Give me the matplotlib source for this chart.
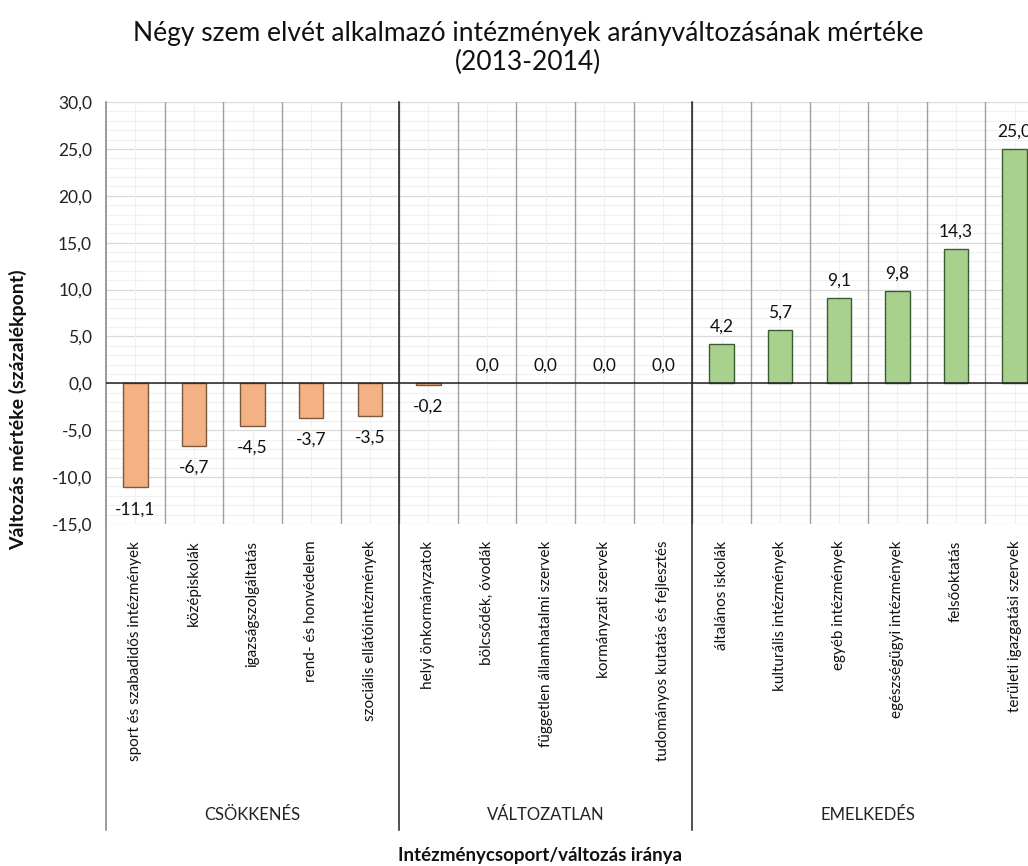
import numpy as np
import matplotlib
matplotlib.use("Agg")
import matplotlib.pyplot as plt
from matplotlib.ticker import MultipleLocator

plt.rcParams['font.family'] = ['Lato', 'DejaVu Sans']

# data
categories = [
    "sport és szabadidős intézmények",
    "középiskolák",
    "igazságszolgáltatás",
    "rend- és honvédelem",
    "szociális ellátóintézmények",
    "helyi önkormányzatok",
    "bölcsődék, óvodák",
    "független államhatalmi szervek",
    "kormányzati szervek",
    "tudományos kutatás és fejlesztés",
    "általános iskolák",
    "kulturális intézmények",
    "egyéb intézmények",
    "egészségügyi intézmények",
    "felsőoktatás",
    "területi igazgatási szervek",
]
values = [-11.1, -6.7, -4.5, -3.7, -3.5, -0.2, 0.0, 0.0, 0.0, 0.0,
          4.2, 5.7, 9.1, 9.8, 14.3, 25.0]
groups = ["CSÖKKENÉS", "VÁLTOZATLAN", "EMELKEDÉS"]
group_sizes = [5, 5, 6]

title = "Négy szem elvét alkalmazó intézmények arányváltozásának mértéke\n(2013-2014)"
ylabel = "Változás mértéke (százalékpont)"
xlabel = "Intézménycsoport/változás iránya"


def fmt(v):
    return f"{v:.1f}".replace(".", ",")


W, H = 1028, 866
fig = plt.figure(figsize=(W / 100, H / 100), dpi=100)

# plot area: x 106..1044 px (runs off the right edge), y 102..524 px
left, right, top, bottom = 106, 1044, 102, 524
ax = fig.add_axes([left / W, 1 - bottom / H, (right - left) / W, (bottom - top) / H])

x = np.arange(len(categories))
colors = ["#F4B183" if v < 0 else "#A9D18E" for v in values]
edges = ["#7a5a3f" if v < 0 else "#3f5a30" for v in values]
lws = [0 if v == 0 else 1.0 for v in values]
ax.bar(x, values, width=0.42, color=colors, edgecolor=edges, linewidth=lws, zorder=3)

ax.set_xlim(-0.5, len(categories) - 0.5)
ax.set_ylim(-15, 30)

# grid: light minor lines every 1, stronger every 5
ax.yaxis.set_major_locator(MultipleLocator(5))
ax.yaxis.set_minor_locator(MultipleLocator(1))
ax.grid(axis="y", which="minor", color="#f0f0f0", linewidth=0.8)
ax.grid(axis="y", which="major", color="#d9d9d9", linewidth=0.9)
ax.set_axisbelow(True)
ax.set_yticks(np.arange(-15, 31, 5))
ax.set_yticklabels([fmt(v) for v in np.arange(-15, 31, 5)], fontsize=12.5, color="#222222")
ax.tick_params(axis="y", which="both", length=0, pad=10)

# vertical lines: minor at centres, gray at category borders, black at group borders
for xi in x:
    ax.axvline(xi, color="#f0f0f0", linewidth=0.8, zorder=0.6)
for b in x[1:]:
    ax.axvline(b - 0.5, color="#a0a0a0", linewidth=1.0, zorder=2)

ext = -(830 - bottom) / (bottom - top)
bounds = np.cumsum([0] + group_sizes) - 0.5
for b in bounds[:-1]:
    col = "#808080" if b < 0 else "#222222"
    ax.axvline(b, ymin=ext, ymax=1, color=col, linewidth=1.1, clip_on=False, zorder=2.5)

ax.axhline(0, color="#222222", linewidth=1.1, zorder=4)

for s in ax.spines.values():
    s.set_visible(False)

# category labels
ax.set_xticks(x)
ax.set_xticklabels(categories, rotation=90, fontsize=11, color="#111111")
ax.tick_params(axis="x", length=0, pad=12)

# group labels
for i, g in enumerate(groups):
    cx = (bounds[i] + bounds[i + 1]) / 2
    ax.text(cx, -(815 - bottom) / (bottom - top), g, transform=ax.get_xaxis_transform(),
            ha="center", va="center", fontsize=12, color="#222222")

# value labels
for xi, v in zip(x, values):
    if v < 0:
        ax.annotate(fmt(v), (xi, v), xytext=(0, -10), textcoords="offset points",
                    ha="center", va="top", fontsize=12.5, color="#111111")
    else:
        ax.annotate(fmt(v), (xi, v), xytext=(0, 7), textcoords="offset points",
                    ha="center", va="bottom", fontsize=12.5, color="#111111")

fig.text(528 / W, 1 - 48 / H, title, ha="center", va="center", fontsize=19,
         linespacing=1.15, color="#111111")
fig.text(18 / W, 1 - 410 / H, ylabel, rotation=90, ha="center", va="center",
         fontsize=14, fontweight="bold", color="#111111")
fig.text(540 / W, 1 - 855 / H, xlabel, ha="center", va="center",
         fontsize=13.5, fontweight="bold", color="#111111")

fig.savefig("out.png", dpi=100)
